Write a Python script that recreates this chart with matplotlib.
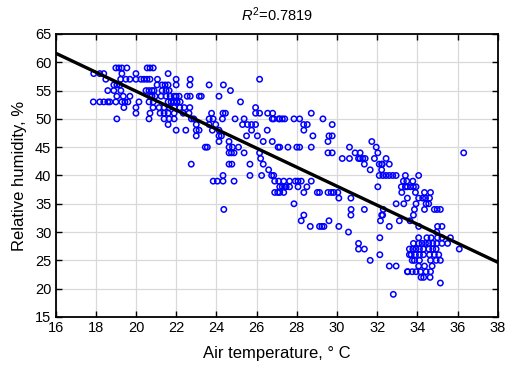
import numpy as np
import matplotlib
matplotlib.use("Agg")
import matplotlib.pyplot as plt

plt.rcParams['font.family'] = ['Liberation Sans', 'DejaVu Sans']
plt.rcParams['mathtext.fontset'] = 'custom'
plt.rcParams['mathtext.rm'] = 'Liberation Sans'
plt.rcParams['mathtext.it'] = 'Liberation Sans:italic'

# relative humidity levels (%) and the air temperatures (deg C) observed at each level
humidity_levels = [59, 58, 57, 56, 55, 54, 53, 52, 51, 50, 49, 48, 47, 46, 45, 44,
                   43, 42, 41, 40, 39, 38, 37, 36, 35, 34, 33, 32, 31, 30, 29, 28,
                   27, 26, 25, 24, 23, 22, 21, 19]
temps_by_level = [
    [19.0, 19.15, 19.3, 19.55, 20.56, 20.7, 20.86],
    [17.9, 18.2, 18.4, 19.3, 20.0, 21.6],
    [18.5, 19.24, 19.5, 19.7, 20.0, 20.25, 20.4, 20.55, 20.7, 21.07, 22.0, 22.7, 26.15],
    [18.9, 19.05, 19.2, 21.05, 21.3, 21.45, 21.6, 22.0, 22.68, 23.64, 24.35],
    [18.6, 18.9, 19.25, 20.5, 20.65, 20.8, 20.9, 21.3, 21.5, 21.65, 24.7],
    [19.05, 19.37, 19.7, 20.7, 20.8, 20.95, 21.25, 21.5, 21.7, 21.9, 22.0, 22.15,
     22.55, 22.7, 23.15, 23.25, 24.13],
    [17.88, 18.2, 18.4, 18.6, 18.7, 19.0, 19.3, 19.45, 19.6, 20.15, 20.65, 20.86,
     21.6, 21.75, 21.9, 22.05, 22.2, 25.2],
    [19.4, 20.0, 20.85, 21.15, 21.4, 21.65, 21.9, 22.18, 22.4, 22.68, 25.95],
    [20.0, 20.7, 21.2, 21.4, 21.6, 21.9, 22.35, 22.64, 23.76, 24.33, 24.45, 25.95,
     26.15, 26.55, 26.8, 28.72],
    [19.05, 20.65, 21.4, 21.65, 21.9, 22.76, 22.88, 23.64, 23.84, 24.3, 24.93, 25.38,
     26.78, 26.85, 27.1, 27.15, 27.28, 27.4, 27.86, 28.14, 29.3],
    [21.6, 23.0, 23.64, 23.97, 25.3, 25.55, 25.75, 25.95, 28.34, 28.52, 29.76],
    [22.0, 22.48, 23.0, 23.14, 23.8, 24.13, 25.75, 26.53, 28.35],
    [23.0, 24.13, 24.25, 25.5, 26.04, 28.8, 29.6, 29.76],
    [24.13, 24.63, 26.33, 26.78, 29.55, 31.73],
    [23.45, 23.55, 24.63, 24.8, 25.1, 27.07, 27.15, 27.56, 28.0, 28.14, 28.72, 30.62, 31.95],
    [24.63, 24.75, 24.88, 25.38, 26.15, 29.55, 29.76, 30.9, 31.15, 32.03, 36.3],
    [26.2, 30.26, 30.62, 31.07, 31.15, 31.28, 31.4, 31.86, 32.44],
    [22.75, 24.63, 24.77, 25.67, 26.33, 31.36, 32.1, 32.22, 32.25, 32.6],
    [26.6, 31.65, 32.22],
    [24.33, 25.67, 26.25, 26.75, 26.85, 32.1, 32.28, 32.44, 32.6, 32.77, 32.94, 33.4, 34.06],
    [23.84, 24.05, 24.33, 24.88, 26.9, 27.1, 27.35, 27.64, 27.93, 28.06, 28.22, 28.72,
     33.3, 33.47, 33.77],
    [27.15, 27.28, 27.4, 27.47, 27.64, 28.06, 28.5, 32.03, 33.2, 33.4, 33.5, 33.65, 33.8, 33.93],
    [26.9, 27.05, 27.15, 27.35, 28.35, 29.02, 29.13, 29.55, 29.71, 29.84, 30.04, 33.22,
     33.9, 34.35, 34.65],
    [30.09, 30.69, 33.5, 34.06, 34.26, 34.4, 34.6],
    [27.86, 32.94, 33.32, 33.93, 34.43, 34.56],
    [24.37, 30.7, 31.36, 32.3, 33.85, 34.35, 34.84, 34.98, 35.14],
    [28.35, 30.69, 32.22, 32.27, 33.8],
    [28.22, 29.6, 32.16, 33.1, 33.63],
    [28.67, 29.13, 29.25, 29.35, 30.09, 32.6, 34.06, 35.0, 35.22],
    [30.57, 34.96],
    [32.13, 34.06, 34.47, 34.68, 35.0, 35.22, 35.64],
    [31.07, 33.8, 34.06, 34.23, 34.4, 34.56, 34.76, 34.96, 35.22, 35.5],
    [31.07, 31.36, 33.6, 33.77, 33.93, 34.1, 34.3, 34.56, 34.76, 34.93, 36.08],
    [32.13, 33.6, 33.69, 33.9, 34.1, 34.3, 34.6, 34.84, 35.06],
    [31.65, 33.74, 33.85, 34.1, 34.65, 34.93, 35.14],
    [32.6, 32.94, 34.06, 34.35, 34.73],
    [33.5, 33.52, 33.74, 33.93, 34.15, 34.43, 34.65],
    [34.18, 34.31, 34.63],
    [35.14],
    [32.8],
]

# fitted regression line
fit_slope = -1.68
fit_intercept = 88.5
r_squared = 0.7819

air_temp = np.concatenate([np.array(t) for t in temps_by_level])
rel_hum = np.concatenate([np.full(len(t), h) for h, t in zip(humidity_levels, temps_by_level)])

fig = plt.figure(figsize=(5.07, 3.71), dpi=100)
ax = fig.add_axes([0.1095, 0.1456, 0.8725, 0.7628])

ax.scatter(air_temp, rel_hum, s=15, facecolors='none', edgecolors='#0000ff',
           linewidths=1.1, zorder=3)

xs = np.array([16, 38])
ax.plot(xs, fit_intercept + fit_slope * xs, color='black', lw=2.4, zorder=4)

ax.set_xlim(16, 38)
ax.set_ylim(15, 65)
ax.set_xticks(np.arange(16, 39, 2))
ax.set_yticks(np.arange(15, 66, 5))
ax.grid(True, color='#d9d9d9', lw=0.9)
ax.set_axisbelow(True)
ax.tick_params(direction='in', top=True, right=True, length=4, width=1,
               labelsize=10.5, pad=3)
for sp in ax.spines.values():
    sp.set_linewidth(1.3)

ax.set_xlabel('Air temperature, ° C', fontsize=12, labelpad=8)
ax.set_ylabel('Relative humidity, %', fontsize=12, labelpad=6)
ax.set_title(f'$R^2$={r_squared}', fontsize=10.5, pad=9)

fig.savefig('out.png', dpi=100)
